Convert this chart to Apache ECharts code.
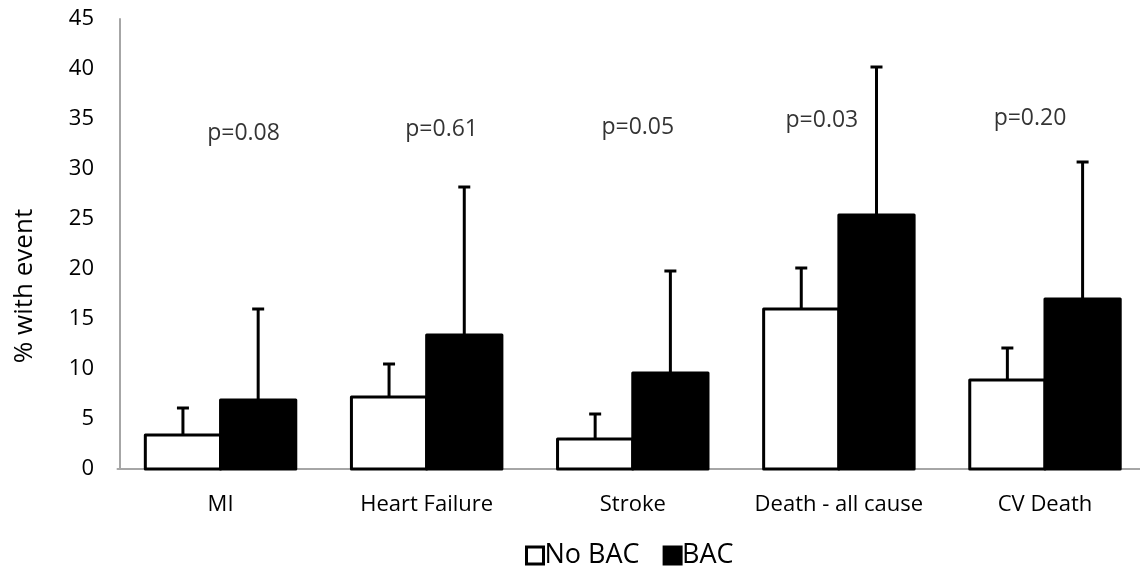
<!DOCTYPE html>
<html>
<head>
<meta charset="utf-8">
<script src="https://cdn.jsdelivr.net/npm/echarts@6/dist/echarts.min.js"></script>
<style>
html,body{margin:0;padding:0;background:#fff;}
#chart{width:1140px;height:567px;}
</style>
</head>
<body>
<div id="chart"></div>
<script>
const categories = ['MI', 'Heart Failure', 'Stroke', 'Death - all cause', 'CV Death'];
const seriesNames = ['No BAC', 'BAC'];
const noBAC = [3.4, 7.2, 3.0, 16.0, 8.9];
const noBACErr = [2.7, 3.3, 2.5, 4.1, 3.2];
const bac = [6.9, 13.4, 9.6, 25.4, 17.0];
const bacErr = [9.1, 14.8, 10.2, 14.8, 13.7];
const pValues = ['p=0.08', 'p=0.61', 'p=0.05', 'p=0.03', 'p=0.20'];
const pLabelY = [33.6, 34.0, 34.2, 34.9, 35.1];
const yTicks = [0, 5, 10, 15, 20, 25, 30, 35, 40, 45];

const FONT = '"Open Sans", "Liberation Sans", sans-serif';
const CAT_GAP = 0.27;
const pLabelShift = [23, 15, 5, -17, -15];
// the plot area of the original runs past the right edge of the picture
const X_MIN = -0.5, X_MAX = 4.461;
const catIdx = categories.map((c, i) => i);

function errRender(side) {
  return function (params, api) {
    const i = api.value(0), v = api.value(1), e = api.value(2);
    const base = api.coord([i, v]);
    const top = api.coord([i, v + e]);
    const band = api.size([1, 0])[0];
    const bw = band * (1 - CAT_GAP) / 2;
    const x = base[0] + side * bw / 2;
    const cap = 6;
    const st = { stroke: '#000', lineWidth: 3 };
    return {
      type: 'group',
      children: [
        { type: 'line', shape: { x1: x, y1: base[1], x2: x, y2: top[1] }, style: st },
        { type: 'line', shape: { x1: x - cap, y1: top[1], x2: x + cap, y2: top[1] }, style: st }
      ]
    };
  };
}

function barRender(side, fill) {
  return function (params, api) {
    const i = api.value(0), v = api.value(1);
    const base = api.coord([i, 0]);
    const top = api.coord([i, v]);
    const band = api.size([1, 0])[0];
    const bw = band * (1 - CAT_GAP) / 2;
    const x0 = side < 0 ? base[0] - bw : base[0];
    return {
      type: 'rect',
      shape: { x: x0, y: top[1], width: bw, height: base[1] - top[1] },
      style: { fill: fill, stroke: '#000', lineWidth: 3, lineJoin: 'round' }
    };
  };
}

const chart = echarts.init(document.getElementById('chart'), null, { renderer: 'canvas' });
chart.setOption({
  animation: false,
  backgroundColor: '#ffffff',
  textStyle: { fontFamily: FONT },
  grid: { left: 117.5, right: 0, top: 19, bottom: 98 },
  legend: {
    data: seriesNames,
    left: 525,
    top: 542,
    padding: 0,
    icon: 'rect',
    itemWidth: 17,
    itemHeight: 17,
    itemGap: 23,
    itemStyle: { borderColor: '#000', borderWidth: 3 },
    textStyle: { fontFamily: FONT, fontSize: 27, color: '#000', padding: [0, 0, 0, -4] }
  },
  xAxis: {
    type: 'value',
    min: X_MIN,
    max: X_MAX,
    axisLine: { show: true, onZero: false, lineStyle: { color: '#a6a6a6', width: 2 } },
    axisTick: { show: false },
    splitLine: { show: false },
    axisLabel: {
      color: '#000', fontSize: 22, fontFamily: FONT, margin: 25,
      customValues: catIdx,
      showMinLabel: true, showMaxLabel: true,
      formatter: function (v) { return categories[Math.round(v)] || ''; }
    }
  },
  yAxis: {
    type: 'value',
    min: 0,
    max: 45,
    interval: 5,
    offset: -2.5,
    name: '% with event',
    nameLocation: 'middle',
    nameGap: 82,
    nameTextStyle: { color: '#000', fontSize: 26, fontFamily: FONT, padding: [0, 84, 0, 0] },
    axisLine: { show: true, onZero: false, lineStyle: { color: '#a6a6a6', width: 2 } },
    axisTick: { show: false },
    splitLine: { show: false },
    axisLabel: {
      color: '#000', fontSize: 22, fontFamily: FONT, margin: 26,
      formatter: function (v) { return yTicks.indexOf(v) >= 0 ? String(v) : ''; }
    }
  },
  series: [
    {
      name: seriesNames[0],
      type: 'custom',
      renderItem: barRender(-1, '#ffffff'),
      data: noBAC.map((v, i) => [i, v]),
      encode: { x: 0, y: 1 },
      itemStyle: { color: '#ffffff', borderColor: '#000', borderWidth: 3 },
      z: 2
    },
    {
      name: seriesNames[1],
      type: 'custom',
      renderItem: barRender(1, '#000000'),
      data: bac.map((v, i) => [i, v]),
      encode: { x: 0, y: 1 },
      itemStyle: { color: '#000000', borderColor: '#000', borderWidth: 3 },
      z: 2
    },
    {
      type: 'custom',
      renderItem: errRender(-1),
      data: noBAC.map((v, i) => [i, v, noBACErr[i]]),
      encode: { x: 0, y: 1 },
      z: 3,
      silent: true
    },
    {
      type: 'custom',
      renderItem: errRender(1),
      data: bac.map((v, i) => [i, v, bacErr[i]]),
      encode: { x: 0, y: 1 },
      z: 3,
      silent: true
    },
    {
      type: 'scatter',
      symbolSize: 0,
      silent: true,
      data: pLabelY.map((y, i) => ({
        value: [i, y],
        label: { offset: [pLabelShift[i], 0] }
      })),
      label: {
        show: true,
        position: 'inside',
        color: '#000',
        fontSize: 23,
        fontFamily: FONT,
        formatter: function (p) { return pValues[p.dataIndex]; }
      },
      z: 4
    }
  ]
});
</script>
</body>
</html>
